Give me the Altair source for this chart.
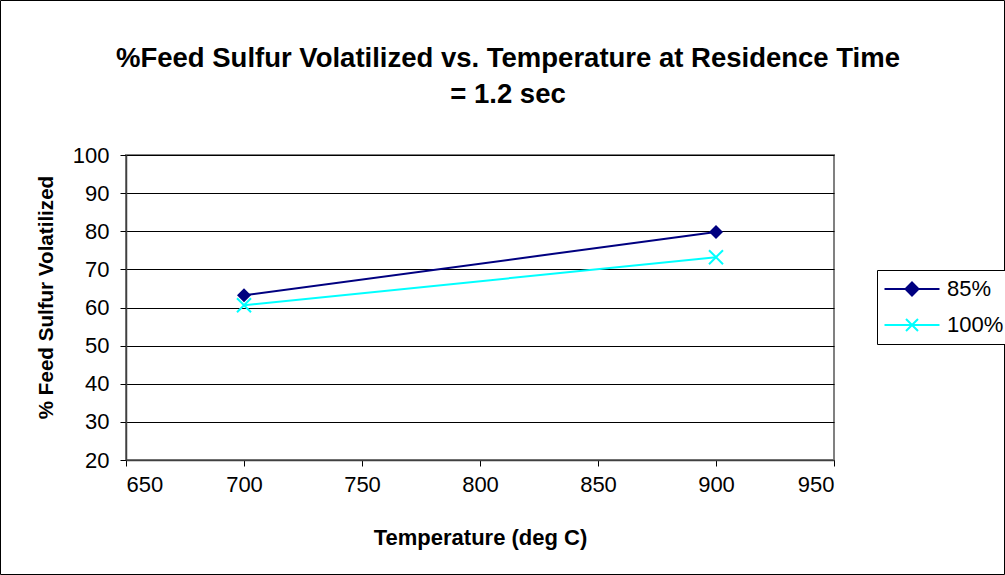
import altair as alt
import pandas as pd

# ---- data ----
temps = [700, 900]
series_names = ["85%", "100%"]
vals_85 = [63.2, 79.8]
vals_100 = [60.6, 73.2]
series_colors = ["#000080", "#00FFFF"]
x_ticks = [650, 700, 750, 800, 850, 900, 950]
y_ticks = [20, 30, 40, 50, 60, 70, 80, 90, 100]

rows = []
for t, v in zip(temps, vals_85):
    rows.append({"temp": t, "value": v, "series": "85%"})
for t, v in zip(temps, vals_100):
    rows.append({"temp": t, "value": v, "series": "100%"})
df = pd.DataFrame(rows)

FONT = "Liberation Sans"
X_PATH = "M-1,-1L1,1M-1,1L1,-1"
LEG_DIAMOND = "M-2.75,0L2.75,0M0,-0.65L0.65,0L0,0.65L-0.65,0Z"
LEG_X = "M-2.75,0L2.75,0M-0.6,-0.6L0.6,0.6M-0.6,0.6L0.6,-0.6"

xenc = alt.X("temp:Q", scale=alt.Scale(domain=[650, 950], nice=False, zero=False),
             axis=alt.Axis(values=x_ticks, title="Temperature (deg C)", grid=False,
                           tickSize=6, tickColor="#000000", domainColor="#404040",
                           domainWidth=1.5, labelFontSize=22, labelFont=FONT,
                           labelColor="#000000", labelPadding=8,
                           titleFont=FONT, titleFontSize=22, titleFontWeight="bold",
                           titleColor="#000000", titlePadding=32))
yenc = alt.Y("value:Q", scale=alt.Scale(domain=[20, 100], nice=False, zero=False),
             axis=alt.Axis(values=y_ticks, title="% Feed Sulfur Volatilized", grid=True,
                           gridColor="#000000", gridWidth=1, gridOpacity=1,
                           tickSize=6, tickColor="#000000", domainColor="#404040",
                           domainWidth=1.5, labelFontSize=22, labelFont=FONT,
                           labelColor="#000000", labelPadding=11, labelOverlap=False,
                           titleFont=FONT, titleFontSize=20.6, titleFontWeight="bold",
                           titleColor="#000000", titlePadding=16, titleY=142))

line85 = alt.Chart(df).transform_filter(alt.datum.series == "85%").mark_line(
    strokeWidth=2, color=series_colors[0]
).encode(x=xenc, y=yenc)

line100 = alt.Chart(df).transform_filter(alt.datum.series == "100%").mark_line(
    strokeWidth=2, color=series_colors[1]
).encode(x=xenc, y=yenc)

pts85 = alt.Chart(df).transform_filter(alt.datum.series == "85%").mark_point(
    shape="diamond", filled=True, size=196, color=series_colors[0], opacity=1
).encode(x=xenc, y=yenc)

pts100 = alt.Chart(df).transform_filter(alt.datum.series == "100%").mark_point(
    shape=X_PATH, filled=False, size=196, stroke=series_colors[1], strokeWidth=2, opacity=1
).encode(x=xenc, y=yenc)

leg = alt.Legend(title=None, orient="none", legendX=751, legendY=115,
                 strokeColor="#000000", fillColor="#FFFFFF", padding=8,
                 labelFont=FONT, labelFontSize=22, labelColor="#000000",
                 symbolSize=400, symbolStrokeWidth=2, symbolOffset=16, symbolOpacity=1,
                 labelOffset=24, rowPadding=14)

legend_layer = alt.Chart(df).mark_point(
    filled=True, strokeWidth=2, opacity=0
).encode(
    x=xenc, y=yenc,
    shape=alt.Shape("series:N", scale=alt.Scale(domain=series_names, range=[LEG_DIAMOND, LEG_X]), legend=leg),
    fill=alt.Fill("series:N", scale=alt.Scale(domain=series_names, range=series_colors), legend=leg),
    stroke=alt.Stroke("series:N", scale=alt.Scale(domain=series_names, range=series_colors), legend=leg),
)

frame = alt.Chart(df).mark_rect(fill=None, stroke="#000000", strokeWidth=1).encode(
    x=alt.value(-125.5), x2=alt.value(878.5), y=alt.value(-154.5), y2=alt.value(419.5)
).transform_filter(alt.datum.temp == 700).transform_filter(alt.datum.series == "85%")

chart = alt.layer(line85, line100, pts85, pts100, legend_layer, frame).properties(
    width=708, height=305,
    title=alt.TitleParams(
        text=["%Feed Sulfur Volatilized vs. Temperature at Residence Time", "= 1.2 sec"],
        font=FONT, fontSize=27.5, fontWeight="bold", color="#000000",
        anchor="middle", frame="group", dx=28, lineHeight=36, offset=-108,
    ),
    autosize=alt.AutoSizeParams(type="none"),
    padding={"left": 126, "top": 155, "right": 171, "bottom": 115},
    background="#FFFFFF",
).configure_view(stroke="#808080", strokeWidth=2)

chart.save("out.html", embed_options={"renderer": "svg", "actions": False})
